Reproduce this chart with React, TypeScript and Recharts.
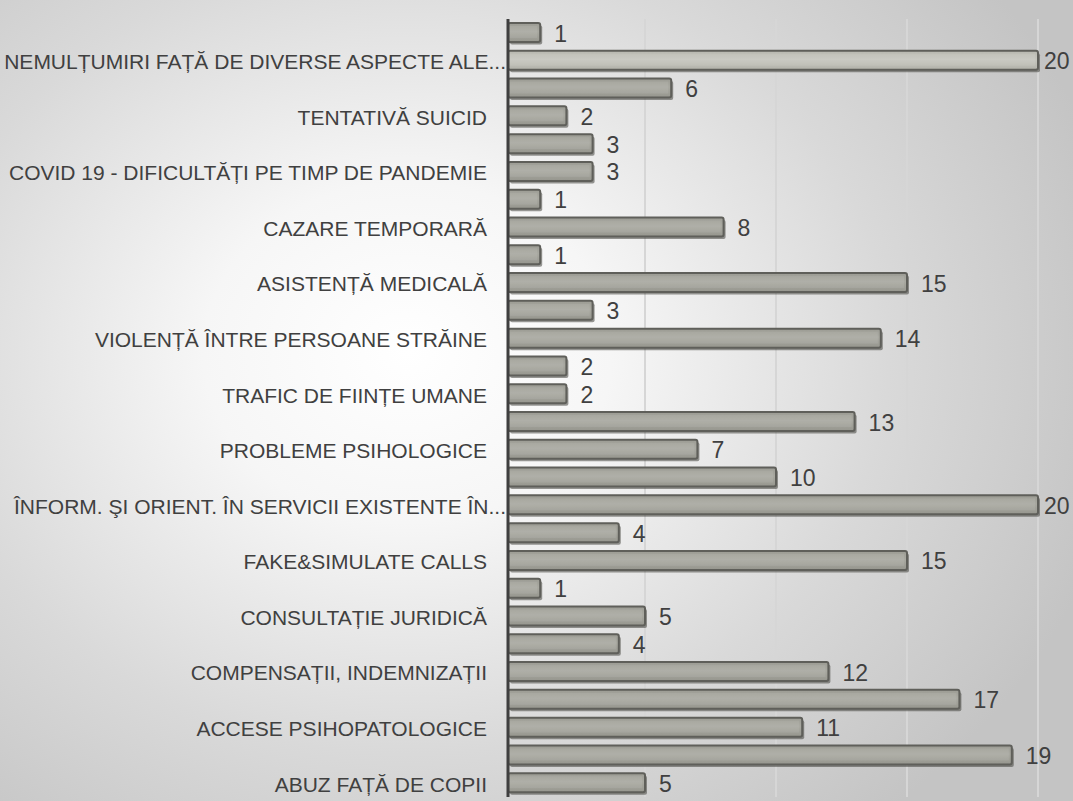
import { Bar, BarChart, CartesianGrid, Cell, LabelList, XAxis, YAxis } from "recharts";

const categories = [
  "c01", "c02", "c03", "c04", "c05", "c06", "c07", "c08", "c09", "c10", "c11", "c12", "c13", "c14",
  "c15", "c16", "c17", "c18", "c19", "c20", "c21", "c22", "c23", "c24", "c25", "c26", "c27", "c28",
];
const tickLabels = [
  "", "NEMULȚUMIRI FAȚĂ DE DIVERSE ASPECTE ALE...",
  "", "TENTATIVĂ SUICID",
  "", "COVID 19 - DIFICULTĂȚI PE TIMP DE PANDEMIE",
  "", "CAZARE TEMPORARĂ",
  "", "ASISTENȚĂ MEDICALĂ",
  "", "VIOLENȚĂ ÎNTRE PERSOANE STRĂINE",
  "", "TRAFIC DE FIINȚE UMANE",
  "", "PROBLEME PSIHOLOGICE",
  "", "ÎNFORM. ŞI ORIENT. ÎN SERVICII EXISTENTE ÎN...",
  "", "FAKE&SIMULATE CALLS",
  "", "CONSULTAȚIE JURIDICĂ",
  "", "COMPENSAȚII, INDEMNIZAȚII",
  "", "ACCESE PSIHOPATOLOGICE",
  "", "ABUZ FAȚĂ DE COPII",
];
const counts = [1, 20, 6, 2, 3, 3, 1, 8, 1, 15, 3, 14, 2, 2, 13, 7, 10, 20, 4, 15, 1, 5, 4, 12, 17, 11, 19, 5];
const gridTicks = [5, 10, 15, 20];

const data = categories.map((id, i) => ({ id, label: tickLabels[i], count: counts[i] }));

const FONT = "'Liberation Sans', Arial, sans-serif";
const INK = "#404040";

// bar with a small drop shadow, pulled a few px left under the axis like the original
function ShadedBar(props: any) {
  const { x, y, width, height, fill } = props;
  const left = x - 6;
  const w = width + 6;
  return (
    <g>
      <rect x={left + 2} y={y + 2.5} width={w} height={height} rx={2} fill="rgba(70,70,64,0.55)" />
      <rect x={left} y={y} width={w} height={height} rx={2} fill={fill} stroke="#5f5f5a" strokeWidth={2} />
      <rect x={left + 2} y={y + 3} width={w - 5} height={height - 7} fill="rgba(255,255,255,0.08)" />
    </g>
  );
}

function ValueLabel(props: any) {
  const { x, y, width, height, value } = props;
  const tx = Math.min(x + width + 14, 1044);
  return (
    <text x={tx} y={y + height / 2 + 1} dominantBaseline="central" fontFamily={FONT} fontSize={23} fill={INK}>
      {value}
    </text>
  );
}

function CategoryTick(props: any) {
  const { x, y, index } = props;
  const text = tickLabels[index];
  // truncated labels sit right against the axis, as excel does
  const tx = text.endsWith("...") ? x + 19 : x;
  return (
    <text x={tx} y={y + 1} textAnchor="end" dominantBaseline="central" fontFamily={FONT} fontSize={21} fill={INK}>
      {text}
    </text>
  );
}

export default function App() {
  return (
    <div
      style={{
        position: "absolute",
        left: 0,
        top: 0,
        width: 1073,
        height: 801,
        background: "radial-gradient(ellipse 68% 76% at 38% 44%, #ffffff 0%, #f6f6f6 28%, #d9d9d9 66%, #c4c4c4 100%)",
      }}
    >
      <BarChart
        width={1073}
        height={801}
        data={data}
        layout="vertical"
        margin={{ top: 19, right: 35, bottom: 4, left: 0 }}
        barSize={19}
      >
        <defs>
          <linearGradient id="barGrad" x1="0" y1="0" x2="0" y2="1">
            <stop offset="0%" stopColor="#9c9c94" />
            <stop offset="45%" stopColor="#a9a9a1" />
            <stop offset="100%" stopColor="#96968e" />
          </linearGradient>
          <linearGradient id="barGradLight" x1="0" y1="0" x2="0" y2="1">
            <stop offset="0%" stopColor="#b8b8b0" />
            <stop offset="45%" stopColor="#c6c6be" />
            <stop offset="100%" stopColor="#b2b2aa" />
          </linearGradient>
        </defs>
        <CartesianGrid horizontal={false} stroke="#d6d6d6" strokeWidth={2} />
        <XAxis type="number" domain={[0, 20]} ticks={gridTicks} hide padding={{ left: 6, right: 0 }} />
        <YAxis
          type="category"
          dataKey="id"
          width={508}
          interval={0}
          tickLine={false}
          tickSize={0}
          tickMargin={21}
          axisLine={{ stroke: "#3f3f3f", strokeWidth: 3 }}
          tick={<CategoryTick />}
        />
        <Bar dataKey="count" fill="url(#barGrad)" shape={<ShadedBar />} isAnimationActive={false}>
          {data.map((d, i) => (
            <Cell key={d.id} fill={i === 1 ? "url(#barGradLight)" : "url(#barGrad)"} />
          ))}
          <LabelList dataKey="count" content={<ValueLabel />} />
        </Bar>
      </BarChart>
    </div>
  );
}
